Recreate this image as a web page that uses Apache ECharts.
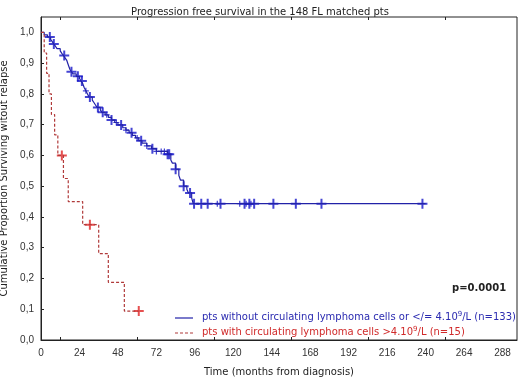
<!DOCTYPE html>
<html>
<head>
<meta charset="utf-8">
<script src="https://cdn.jsdelivr.net/npm/echarts@6/dist/echarts.min.js"></script>
<style>
  html, body { margin: 0; padding: 0; background: #fff; }
  #chart { width: 520px; height: 380px; }
</style>
</head>
<body>
<div id="chart"></div>
<script>
// step curves: time (months) where S drops, and S after the drop
const blueTimes = [0, 2, 4, 6, 7, 8, 9, 10, 12, 13, 14, 15, 16, 17, 18, 19, 20, 22, 24, 25, 26, 27, 28, 29, 30, 32, 33, 34, 35, 37, 38, 40, 42, 44, 46, 48, 51, 53, 55, 57, 59, 61, 63, 66, 69, 72, 79, 81, 82, 84, 86, 87, 89, 91, 92, 94, 95, 240]
const blueSurv = [1.0, 0.992, 0.985, 0.977, 0.97, 0.962, 0.955, 0.947, 0.94, 0.932, 0.925, 0.917, 0.91, 0.895, 0.88, 0.872, 0.865, 0.857, 0.85, 0.842, 0.834, 0.82, 0.81, 0.8, 0.79, 0.78, 0.772, 0.764, 0.756, 0.748, 0.74, 0.732, 0.724, 0.715, 0.707, 0.699, 0.69, 0.682, 0.674, 0.665, 0.657, 0.648, 0.64, 0.631, 0.622, 0.613, 0.604, 0.585, 0.575, 0.555, 0.535, 0.52, 0.5, 0.49, 0.478, 0.462, 0.443, 0.443]
const redTimes = [0, 2, 3.5, 5, 6.5, 8.5, 10.5, 14, 17, 26, 36, 42, 52, 61]
const redSurv = [1.0, 0.933, 0.867, 0.8, 0.733, 0.667, 0.6, 0.525, 0.45, 0.375, 0.281, 0.1875, 0.094, 0.094]

// censored observations (months)
const blueCensor = [5.5, 8, 14.5, 19, 23, 25.5, 30.5, 35.5, 38.5, 44, 50, 56.5, 62.5, 69.5, 79, 80, 84, 89, 93, 95.5, 100, 104, 112, 127, 130, 133, 145, 159, 175, 238]
const blueCensorSmall = [28, 41, 47, 53, 60, 66, 72, 75, 77, 110, 124, 128, 131]
const redCensor = [13, 30.5, 61]

const xTicks = [0, 24, 48, 72, 96, 120, 144, 168, 192, 216, 240, 264, 288]
const xMinorTicks = [12, 60, 108, 156, 204, 252]

const survAt = (times, surv, t) => {
  let s = surv[0]
  for (let i = 0; i < times.length; i++) if (times[i] <= t) s = surv[i]
  return s
}

const plus = 'path://M4,0H6V4H10V6H6V10H4V6H0V4H4Z'
const font = 'Liberation Sans, Arial, sans-serif'
const wide = 'DejaVu Sans, Verdana, sans-serif'

const chart = echarts.init(document.getElementById('chart'))
chart.setOption({
  animation: false,
  title: {
    text: 'Progression free survival in the 148 FL matched pts',
    left: 'center', top: 2,
    textStyle: { fontSize: 10, fontWeight: 'normal', color: '#222', fontFamily: wide },
  },
  grid: {
    left: 41, right: 3, top: 17, bottom: 40, show: true, borderColor: '#222', borderWidth: 1,
    outerBoundsMode: 'none', containLabel: false,
  },
  xAxis: [
    {
      type: 'value', min: 0, max: 297, interval: 24,
      name: 'Time (months from diagnosis)', nameLocation: 'middle', nameGap: 27,
      nameTextStyle: { fontSize: 10, color: '#222', fontFamily: wide },
      axisLine: { lineStyle: { color: '#222' } },
      axisTick: { inside: true, length: 3, customValues: xMinorTicks, lineStyle: { color: '#222' } },
      axisLabel: { color: '#333', fontSize: 10, fontFamily: font, margin: 8, customValues: xTicks },
      splitLine: { show: false },
    },
    {
      type: 'value', min: 0, max: 297, position: 'top',
      axisLine: { show: false },
      axisTick: { inside: true, length: 3, customValues: xMinorTicks, lineStyle: { color: '#222' } },
      axisLabel: { show: false },
      splitLine: { show: false },
    },
  ],
  yAxis: {
    type: 'value', min: 0, max: 1.05, interval: 0.1,
    name: 'Cumulative Proportion Surviving witout relapse', nameLocation: 'middle', nameGap: 30,
    nameTextStyle: { fontSize: 10, color: '#222', fontFamily: wide },
    axisLine: { lineStyle: { color: '#222' } },
    axisTick: { inside: true, length: 3, lineStyle: { color: '#222' } },
    axisLabel: {
      color: '#333', fontSize: 10, fontFamily: font, margin: 7, showMaxLabel: false,
      formatter: (v) => v.toFixed(1).replace('.', ','),
    },
    splitLine: { show: false },
  },
  series: [
    {
      type: 'line', step: 'end', showSymbol: false,
      data: blueTimes.map((t, i) => [t, blueSurv[i]]),
      lineStyle: { color: '#2222a8', width: 1.2 },
    },
    {
      type: 'line', step: 'end', showSymbol: false,
      data: redTimes.map((t, i) => [t, redSurv[i]]),
      lineStyle: { color: '#b03a3a', width: 1.2, type: [3, 2] },
    },
    {
      type: 'scatter', symbol: plus, symbolSize: 10,
      data: blueCensor.map((t) => [t, survAt(blueTimes, blueSurv, t)]),
      itemStyle: { color: '#1515c8' },
    },
    {
      type: 'scatter', symbol: plus, symbolSize: 6,
      data: blueCensorSmall.map((t) => [t, survAt(blueTimes, blueSurv, t)]),
      itemStyle: { color: '#1515c8' },
    },
    {
      type: 'scatter', symbol: plus, symbolSize: 10,
      data: redCensor.map((t) => [t, survAt(redTimes, redSurv, t)]),
      itemStyle: { color: '#e02424' },
    },
  ],
  graphic: [
    { type: 'text', left: 452, top: 283, style: { text: 'p=0.0001', font: 'bold 10px ' + wide, fill: '#222' } },
    { type: 'line', shape: { x1: 175, y1: 318, x2: 193, y2: 318 }, style: { stroke: '#2222a8', lineWidth: 1.2 } },
    {
      type: 'text', left: 202, top: 311,
      style: {
        text: 'pts without circulating lymphoma cells or </= 4.10{sup|9}/L (n=133)',
        font: '10px ' + wide, fill: '#2a2ab0',
        rich: { sup: { fontSize: 7, fontFamily: wide, fill: '#2a2ab0', padding: [0, 0, 6, 0] } },
      },
    },
    { type: 'line', shape: { x1: 175, y1: 333, x2: 193, y2: 333 }, style: { stroke: '#b03a3a', lineWidth: 1.2, lineDash: [3, 2] } },
    {
      type: 'text', left: 202, top: 326,
      style: {
        text: 'pts with circulating lymphoma cells >4.10{sup|9}/L (n=15)',
        font: '10px ' + wide, fill: '#d02a2a',
        rich: { sup: { fontSize: 7, fontFamily: wide, fill: '#d02a2a', padding: [0, 0, 6, 0] } },
      },
    },
  ],
})
</script>
</body>
</html>
